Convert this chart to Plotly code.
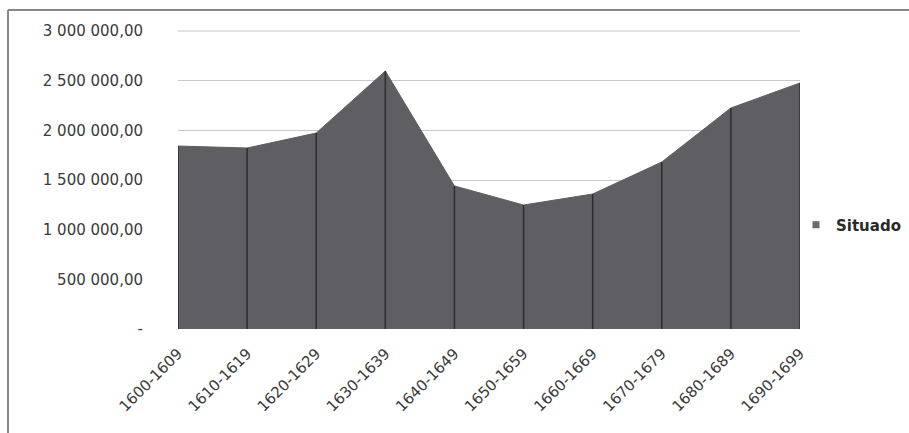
import plotly.graph_objects as go

categories = ["1600-1609", "1610-1619", "1620-1629", "1630-1639", "1640-1649",
              "1650-1659", "1660-1669", "1670-1679", "1680-1689", "1690-1699"]
situado = [1842000, 1822000, 1973000, 2597000, 1440000,
           1248000, 1359000, 1681000, 2225000, 2477000]
series_name = "Situado"
y_ticks = [0, 500000, 1000000, 1500000, 2000000, 2500000, 3000000]
y_tick_labels = ["-", "500 000,00", "1 000 000,00", "1 500 000,00",
                 "2 000 000,00", "2 500 000,00", "3 000 000,00"]

FONT = "DejaVu Sans, Verdana, sans-serif"
fig = go.Figure()
fig.add_trace(go.Scatter(
    x=categories, y=situado, mode="lines", fill="tozeroy",
    fillcolor="#5f5f63", line=dict(color="#5f5f63", width=1),
    name=series_name, showlegend=False,
))
# vertical drop lines at each category
vx, vy = [], []
for c, v in zip(categories, situado):
    vx += [c, c, None]
    vy += [0, v, None]
fig.add_trace(go.Scatter(x=vx, y=vy, mode="lines",
                         line=dict(color="#2e2e30", width=1.5),
                         showlegend=False, hoverinfo="skip"))
# legend entry (square symbol)
fig.add_trace(go.Scatter(x=[None], y=[None], mode="markers", name=series_name,
                         marker=dict(symbol="square", size=7, color="#6a6a6e"),
                         showlegend=True))

fig.update_layout(
    width=909, height=433,
    margin=dict(l=178, r=109, t=31, b=104, autoexpand=False),
    paper_bgcolor="white", plot_bgcolor="white",
    font=dict(family=FONT, color="#3a3a3a"),
    showlegend=True,
    legend=dict(x=(796 - 178) / 622, y=(329 - 225) / 298, xanchor="left", yanchor="middle",
                font=dict(size=15, color="#2a2a2a", family=FONT, weight="bold"),
                itemwidth=30, bgcolor="rgba(0,0,0,0)"),
    xaxis=dict(type="category", range=[0, 9], showgrid=False, zeroline=False,
               showline=False, ticks="", tickangle=-45, ticklabelstandoff=12,
               tickfont=dict(size=15, color="#3a3a3a")),
    yaxis=dict(range=[0, 3000000], tickvals=y_ticks, ticktext=y_tick_labels,
               showgrid=True, gridcolor="#c8c8c8", gridwidth=1, zeroline=False,
               showline=False, ticks="", ticklabelstandoff=34,
               tickfont=dict(size=15, color="#3a3a3a")),
    shapes=[
        dict(type="line", xref="paper", yref="paper", x0=-170/622, x1=1 + 109/622,
             y0=1 + 21/298, y1=1 + 21/298, line=dict(color="#888888", width=2)),
        dict(type="line", xref="paper", yref="paper", x0=-170/622, x1=-170/622,
             y0=-104/298, y1=1 + 21/298, line=dict(color="#888888", width=2)),
        dict(type="line", xref="paper", yref="paper", x0=0, x1=1, y0=1, y1=1,
             line=dict(color="#c8c8c8", width=1)),
    ],
)
fig.write_html("out.html")
